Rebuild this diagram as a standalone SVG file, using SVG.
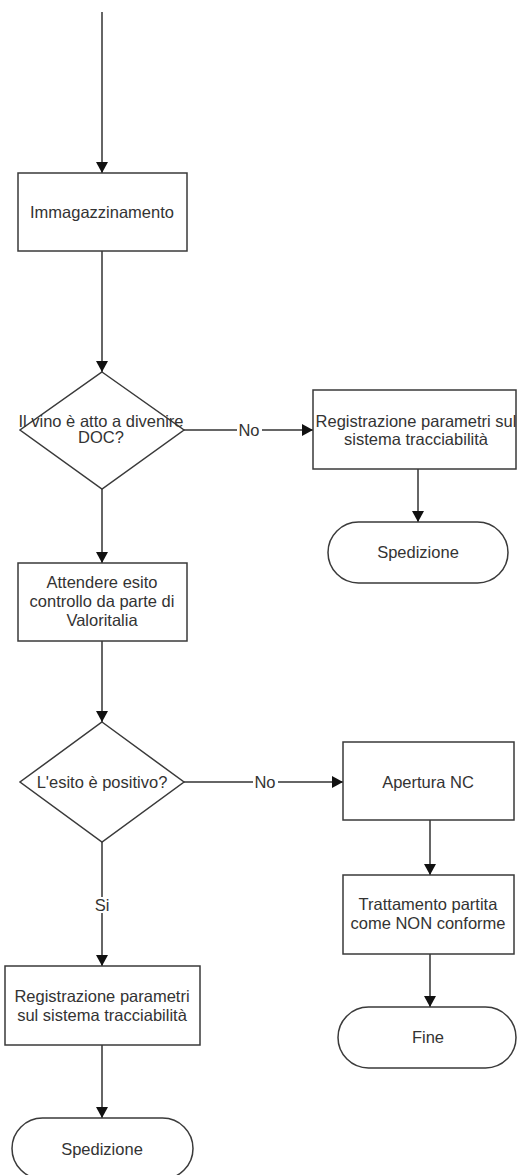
<svg xmlns="http://www.w3.org/2000/svg" width="517" height="1175" viewBox="0 0 517 1175">
<style>
.shape{fill:#fff;stroke:#3a3a3a;stroke-width:1.5}
.t{font-family:"Liberation Sans",Arial,sans-serif;font-size:16.5px;fill:#333;text-anchor:middle}
.c{fill:none;stroke:#333;stroke-width:1.5}
.lbl{fill:#fff;stroke:none}
</style>
<defs>
<marker id="ah" markerUnits="userSpaceOnUse" markerWidth="12" markerHeight="12" refX="11" refY="6" orient="auto">
<path d="M0,0 L11,6 L0,12 Z" fill="#111"/>
</marker>
</defs>
<g id="connectors">
<line class="c" x1="102" y1="12" x2="102" y2="173" marker-end="url(#ah)"/>
<line class="c" x1="102" y1="251" x2="102" y2="372" marker-end="url(#ah)"/>
<line class="c" x1="184" y1="430" x2="313" y2="430" marker-end="url(#ah)"/>
<line class="c" x1="418" y1="469" x2="418" y2="522" marker-end="url(#ah)"/>
<line class="c" x1="102" y1="489" x2="102" y2="563" marker-end="url(#ah)"/>
<line class="c" x1="102" y1="641" x2="102" y2="722" marker-end="url(#ah)"/>
<line class="c" x1="184" y1="782" x2="343" y2="782" marker-end="url(#ah)"/>
<line class="c" x1="430" y1="820" x2="430" y2="875" marker-end="url(#ah)"/>
<line class="c" x1="102" y1="842" x2="102" y2="966" marker-end="url(#ah)"/>
<line class="c" x1="430" y1="954" x2="430" y2="1007" marker-end="url(#ah)"/>
<line class="c" x1="102" y1="1045" x2="102" y2="1118" marker-end="url(#ah)"/>
<rect class="lbl" x="237" y="423" width="25" height="15"/>
<text class="t" x="249" y="436">No</text>
<rect class="lbl" x="253" y="775" width="25" height="15"/>
<text class="t" x="265" y="788">No</text>
<rect class="lbl" x="93" y="897" width="18" height="16"/>
<text class="t" x="102" y="911">Si</text>
</g>
<g id="immagazzinamento">
<rect class="shape" x="18" y="173" width="169" height="78"/>
<text class="t" x="102" y="218">Immagazzinamento</text>
</g>
<g id="decision1">
<polygon class="shape" points="102,372 184,430 102,489 20,430"/>
<text class="t" x="101" y="427">Il vino è atto a divenire</text>
<text class="t" x="101" y="443">DOC?</text>
</g>
<g id="registrazione1">
<rect class="shape" x="313" y="390" width="203" height="79"/>
<text class="t" x="416" y="427">Registrazione parametri sul</text>
<text class="t" x="416" y="445">sistema tracciabilità</text>
</g>
<g id="spedizione1">
<rect class="shape" x="328" y="522" width="180" height="61" rx="30.5" ry="30.5"/>
<text class="t" x="418" y="558">Spedizione</text>
</g>
<g id="attendere">
<rect class="shape" x="18" y="563" width="169" height="78"/>
<text class="t" x="102" y="588">Attendere esito</text>
<text class="t" x="102" y="607">controllo da parte di</text>
<text class="t" x="102" y="626">Valoritalia</text>
</g>
<g id="decision2">
<polygon class="shape" points="102,722 184,782 102,842 20,782"/>
<text class="t" x="102" y="788">L'esito è positivo?</text>
</g>
<g id="apertura">
<rect class="shape" x="343" y="742" width="171" height="78"/>
<text class="t" x="428" y="788">Apertura NC</text>
</g>
<g id="trattamento">
<rect class="shape" x="343" y="875" width="171" height="79"/>
<text class="t" x="428" y="910">Trattamento partita</text>
<text class="t" x="428" y="929">come NON conforme</text>
</g>
<g id="fine">
<rect class="shape" x="338" y="1007" width="178" height="61" rx="30.5" ry="30.5"/>
<text class="t" x="428" y="1043">Fine</text>
</g>
<g id="registrazione2">
<rect class="shape" x="5" y="966" width="195" height="79"/>
<text class="t" x="102" y="1002">Registrazione parametri</text>
<text class="t" x="102" y="1021">sul sistema tracciabilità</text>
</g>
<g id="spedizione2">
<rect class="shape" x="12" y="1118" width="181" height="61" rx="30.5" ry="30.5"/>
<text class="t" x="102" y="1155">Spedizione</text>
</g>
</svg>
